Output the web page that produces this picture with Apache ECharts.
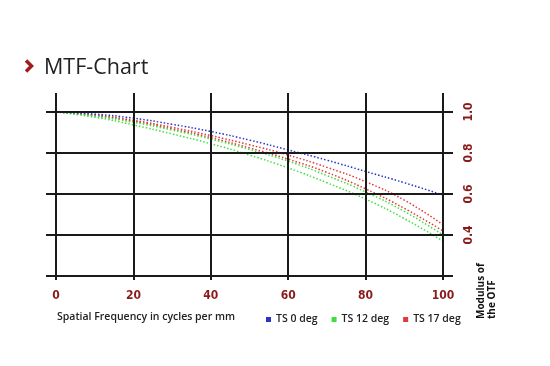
<!DOCTYPE html>
<html><head><meta charset="utf-8">
<script src="https://cdn.jsdelivr.net/npm/echarts@6/dist/echarts.min.js"></script>
<style>html,body{margin:0;padding:0;background:#fff}#c{width:550px;height:366px}</style>
</head><body><div id="c"></div>
<script>
const freq = [0,10,20,30,40,50,60,70,80,90,100];
const ts0   = [1.0,0.99,0.97,0.94,0.905,0.863,0.815,0.765,0.71,0.655,0.595];
const ts12a = [1.0,0.98,0.95,0.912,0.868,0.817,0.76,0.69,0.61,0.515,0.40];
const ts12b = [1.0,0.975,0.937,0.893,0.845,0.79,0.727,0.655,0.575,0.48,0.37];
const ts17a = [1.0,0.985,0.96,0.925,0.885,0.84,0.79,0.73,0.66,0.57,0.45];
const ts17b = [1.0,0.983,0.955,0.918,0.875,0.825,0.77,0.705,0.625,0.53,0.42];
const xTicks = [0,20,40,60,80,100];
const yGrid = [0.2,0.4,0.6,0.8,1.0];
const yLabels = [0.4,0.6,0.8,1.0];
const legendNames = ['TS 0 deg','TS 12 deg','TS 17 deg'];

const BLUE='#2a35c8', GREEN='#3ee03e', RED='#e03a3a';
function pts(arr){ return freq.map((f,i)=>[f,arr[i]]); }
function line(name, arr, color, extra){
  return Object.assign({
    name, type:'line', data:pts(arr), smooth:true, symbol:'none',
    lineStyle:{color, width:1.5, type:[1.5,2]}, itemStyle:{color}, z:3
  }, extra||{});
}
const gridLines = xTicks.map(v=>({xAxis:v})).concat(yGrid.map(v=>({yAxis:v})));

const chart = echarts.init(document.getElementById('c'));
chart.setOption({
  animation:false,
  grid:{left:46,right:97,top:93,bottom:86},
  xAxis:{type:'value',min:-2.584,max:102.584,
    axisLine:{show:false},axisTick:{show:false},splitLine:{show:false},
    axisLabel:{customValues:xTicks,margin:10,color:'#8a1a1a',fontFamily:'DejaVu Sans Condensed',fontWeight:'bold',fontSize:12}},
  yAxis:{type:'value',position:'right',min:0.1805,max:1.0927,
    axisLine:{show:false},axisTick:{show:false},splitLine:{show:false},
    axisLabel:{customValues:yLabels,rotate:90,margin:10,color:'#8a1a1a',fontFamily:'DejaVu Sans Condensed',fontWeight:'bold',fontSize:12,
      formatter:v=>v.toFixed(1)}},
  legend:{data:legendNames,left:261,top:309,icon:'rect',itemWidth:5,itemHeight:5,itemGap:14,
    textStyle:{fontFamily:'Open Sans',fontWeight:600,fontSize:10.5,color:'#222'}},
  title:[{text:'MTF-Chart',left:39,top:52,textStyle:{fontFamily:'Open Sans',fontWeight:'normal',fontSize:21.5,color:'#222'}},
         {text:'Spatial Frequency in cycles per mm',left:52,top:307,textStyle:{fontFamily:'Open Sans',fontWeight:600,fontSize:10.5,color:'#222'}}],
  graphic:[
    {type:'polyline',shape:{points:[[26,60.5],[31.5,66],[26,71.5]]},style:{stroke:'#a01c1c',lineWidth:3.5,fill:null}},
    {type:'text',x:476,y:319,rotation:Math.PI/2,style:{text:'Modulus of\nthe OTF',fontFamily:'Open Sans',fontWeight:'bold',fontSize:10,lineHeight:11,fill:'#111',align:'left',verticalAlign:'top'}}
  ],
  series:[
    {type:'line',data:[],silent:true,markLine:{silent:true,symbol:'none',animation:false,label:{show:false},
      lineStyle:{color:'#1a1a1a',width:2,type:'solid'},emphasis:{disabled:true},data:gridLines}},
    line('TS 17 deg', ts17a, RED),
    line('TS 17 deg', ts17b, RED),
    line('TS 12 deg', ts12a, GREEN),
    line('TS 12 deg', ts12b, GREEN),
    line('TS 0 deg', ts0, BLUE)
  ]
});
</script></body></html>
